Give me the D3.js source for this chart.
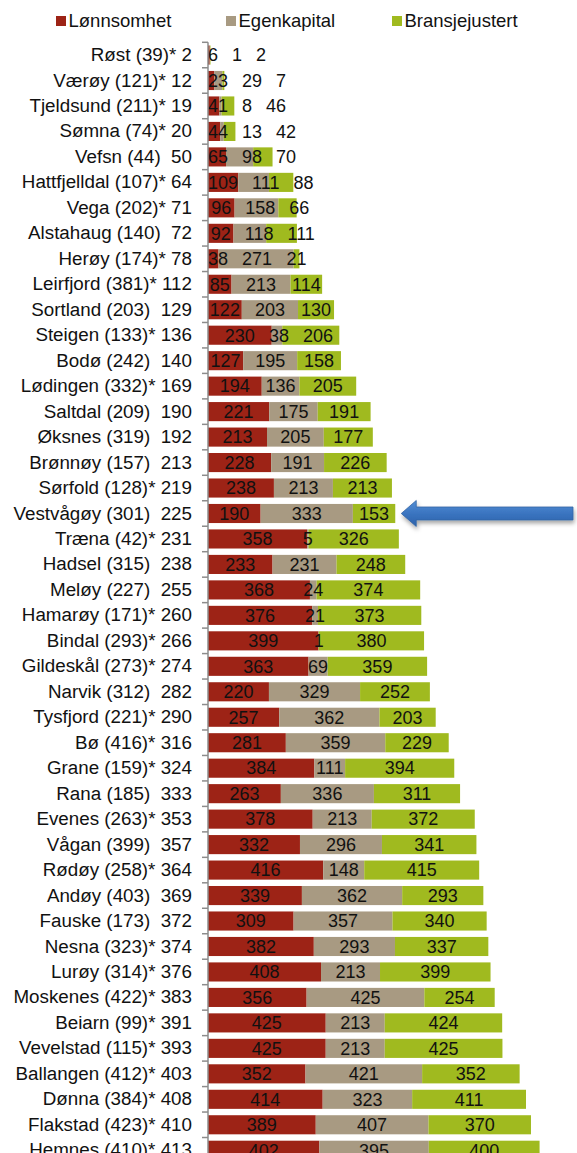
<!DOCTYPE html>
<html>
<head>
<meta charset="utf-8">
<script src="https://cdn.jsdelivr.net/npm/d3@7"></script>
<style>
  html, body { margin: 0; padding: 0; background: #fff; }
  svg { display: block; }
  text { font-family: "Liberation Sans", Arial, sans-serif; fill: #111; }
</style>
</head>
<body>
<svg id="chart" width="577" height="1153"></svg>
<script>
// ---- data ----
const municipalities = ["Røst","Værøy","Tjeldsund","Sømna","Vefsn","Hattfjelldal","Vega","Alstahaug","Herøy","Leirfjord","Sortland","Steigen","Bodø","Lødingen","Saltdal","Øksnes","Brønnøy","Sørfold","Vestvågøy","Træna","Hadsel","Meløy","Hamarøy","Bindal","Gildeskål","Narvik","Tysfjord","Bø","Grane","Rana","Evenes","Vågan","Rødøy","Andøy","Fauske","Nesna","Lurøy","Moskenes","Beiarn","Vevelstad","Ballangen","Dønna","Flakstad","Hemnes"];
const countInParens = [39,121,211,74,44,107,202,140,174,381,203,133,242,332,209,319,157,128,301,42,315,227,171,293,273,312,221,416,159,185,263,399,258,403,173,323,314,422,99,115,412,384,423,410];
const starred = [1,1,1,1,0,1,1,0,1,1,0,1,0,1,0,0,0,1,0,1,0,0,1,1,1,0,1,1,1,0,1,0,1,0,0,1,1,1,1,1,1,1,1,1];
const rank = [2,12,19,20,50,64,71,72,78,112,129,136,140,169,190,192,213,219,225,231,238,255,260,266,274,282,290,316,324,333,353,357,364,369,372,374,376,383,391,393,403,408,410,413];
const lonnsomhet = [6,23,41,44,65,109,96,92,38,85,122,230,127,194,221,213,228,238,190,358,233,368,376,399,363,220,257,281,384,263,378,332,416,339,309,382,408,356,425,425,352,414,389,402];
const egenkapital = [1,29,8,13,98,111,158,118,271,213,203,38,195,136,175,205,191,213,333,5,231,24,21,1,69,329,362,359,111,336,213,296,148,362,357,293,213,425,213,213,421,323,407,395];
const bransjejustert = [2,7,46,42,70,88,66,111,21,114,130,206,158,205,191,177,226,213,153,326,248,374,373,380,359,252,203,229,394,311,372,341,415,293,340,337,399,254,424,425,352,411,370,400];
const seriesNames = ["Lønnsomhet","Egenkapital","Bransjejustert"];
const highlighted = "Vestvågøy";

// ---- build ----
const colors = { "Lønnsomhet": "#9d2316", "Egenkapital": "#a89a82", "Bransjejustert": "#a0ba1f" };
const rows = municipalities.map((m, i) => ({
  name: m,
  label: m + " (" + countInParens[i] + ")" + (starred[i] ? "* " : "\u00a0\u00a0") + rank[i],
  "Lønnsomhet": lonnsomhet[i],
  "Egenkapital": egenkapital[i],
  "Bransjejustert": bransjejustert[i]
}));

const svg = d3.select("#chart");
const W = 577;
const fontSize = 18.5;
const catFont = 18.8;
const valueFont = 18;

const axisX = 208;
const topY = 42.3;
const step = 25.47;
const pad = 0.25;

const y = d3.scaleBand()
  .domain(municipalities)
  .range([topY, topY + step * municipalities.length])
  .paddingInner(pad)
  .paddingOuter(pad / 2);

const x = d3.scaleLinear().domain([0, 1300]).range([axisX, axisX + 1300 * 0.277]);

const stack = d3.stack().keys(seriesNames);
const stacked = stack(rows);

// bars
const layers = svg.append("g").selectAll("g")
  .data(stacked)
  .join("g")
  .attr("fill", d => colors[d.key]);

layers.selectAll("rect")
  .data(d => d.map(v => ({ v, key: d.key })))
  .join("rect")
  .attr("x", d => x(d.v[0]))
  .attr("y", d => y(d.v.data.name))
  .attr("width", d => Math.max(0, x(d.v[1]) - x(d.v[0])))
  .attr("height", y.bandwidth());

// value labels with simple left-to-right collision avoidance
const labelGap = 14;
const labelG = svg.append("g");
rows.forEach(r => {
  const cy = y(r.name) + y.bandwidth() / 2;
  let start = 0;
  let prevRight = axisX;
  seriesNames.forEach((k, i) => {
    const v = r[k];
    const x0 = x(start), x1 = x(start + v);
    start += v;
    const t = labelG.append("text")
      .attr("font-size", valueFont)
      .attr("text-anchor", "middle")
      .attr("dy", "0.35em")
      .attr("y", cy)
      .text(v);
    const w = t.node().getComputedTextLength();
    let cx = (x0 + x1) / 2;
    const minX = (i === 0 ? axisX : prevRight + labelGap) + w / 2;
    cx = Math.max(cx, minX);
    t.attr("x", cx);
    prevRight = cx + w / 2;
  });
});

// category axis
const yAxis = d3.axisLeft(y).tickSize(0).tickPadding(16).tickFormat((d, i) => rows[i].label);
const ag = svg.append("g").attr("transform", `translate(${axisX},0)`).call(yAxis);
ag.select(".domain").remove();
ag.selectAll("text")
  .attr("font-size", catFont)
  .attr("fill", "#111")
  .style("font-family", '"Liberation Sans", Arial, sans-serif');

// axis line and boundary ticks
const boundaries = municipalities.map(m => y(m) - y.step() * pad / 2);
boundaries.push(y(municipalities[municipalities.length - 1]) + y.bandwidth() + y.step() * pad / 2);
svg.append("line")
  .attr("x1", axisX).attr("x2", axisX)
  .attr("y1", boundaries[0]).attr("y2", boundaries[boundaries.length - 1])
  .attr("stroke", "#8c8c8c").attr("stroke-width", 1.5);
svg.append("g").selectAll("line")
  .data(boundaries)
  .join("line")
  .attr("x1", axisX - 6).attr("x2", axisX)
  .attr("y1", d => d).attr("y2", d => d)
  .attr("stroke", "#8c8c8c").attr("stroke-width", 1.5);

// legend
const legendX = [56, 226, 392];
const lg = svg.append("g");
seriesNames.forEach((s, i) => {
  lg.append("rect").attr("x", legendX[i]).attr("y", 16).attr("width", 10).attr("height", 10).attr("fill", colors[s]);
  lg.append("text").attr("x", legendX[i] + 12.5).attr("y", 21).attr("dy", "0.35em")
    .attr("font-size", fontSize).text(s);
});

// highlight arrow
const defs = svg.append("defs");
const grad = defs.append("linearGradient").attr("id", "arrowGrad").attr("x1", 0).attr("y1", 0).attr("x2", 0).attr("y2", 1);
grad.append("stop").attr("offset", "0%").attr("stop-color", "#5590d6");
grad.append("stop").attr("offset", "50%").attr("stop-color", "#3a74c0");
grad.append("stop").attr("offset", "100%").attr("stop-color", "#2d62aa");
const filt = defs.append("filter").attr("id", "shadow").attr("x", "-10%").attr("y", "-50%").attr("width", "130%").attr("height", "250%");
filt.append("feDropShadow").attr("dx", 1).attr("dy", 3).attr("stdDeviation", 2).attr("flood-color", "#000").attr("flood-opacity", 0.35);

const hr = rows.find(r => r.name === highlighted);
const hy = y(highlighted) + y.bandwidth() / 2;
const tipX = x(hr["Lønnsomhet"] + hr["Egenkapital"] + hr["Bransjejustert"]) + 6;
const headW = 15, headH = 13, shaftH = 6.5, endX = W - 4;
const arrowPath = d3.path();
arrowPath.moveTo(tipX, hy);
arrowPath.lineTo(tipX + headW, hy - headH);
arrowPath.lineTo(tipX + headW, hy - shaftH);
arrowPath.lineTo(endX, hy - shaftH);
arrowPath.lineTo(endX, hy + shaftH);
arrowPath.lineTo(tipX + headW, hy + shaftH);
arrowPath.lineTo(tipX + headW, hy + headH);
arrowPath.closePath();
svg.append("path")
  .attr("d", arrowPath.toString())
  .attr("fill", "url(#arrowGrad)")
  .attr("stroke", "#3465a4")
  .attr("stroke-width", 0.8)
  .attr("filter", "url(#shadow)");
</script>
</body>
</html>
